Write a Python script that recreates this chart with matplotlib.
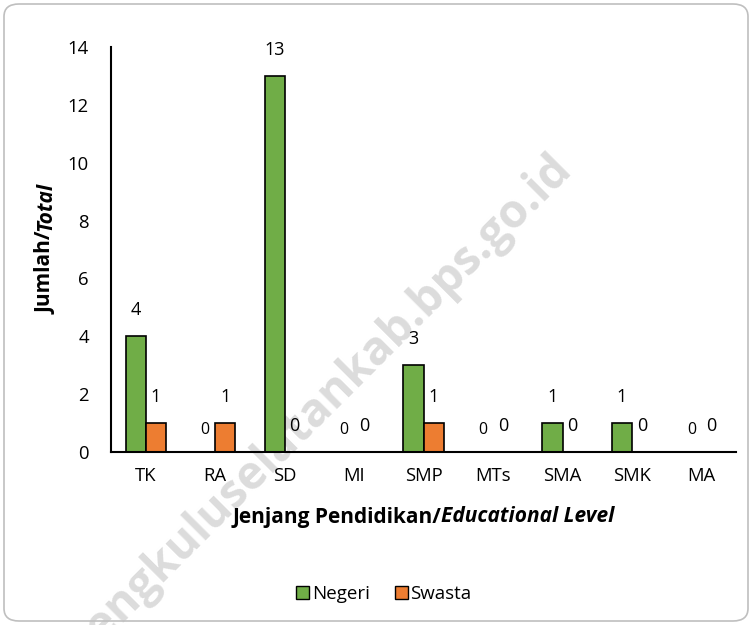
import numpy as np
import matplotlib.pyplot as plt
from matplotlib.patches import FancyBboxPatch, Patch

plt.rcParams['font.family'] = ['Open Sans', 'DejaVu Sans']

# data
levels = ['TK', 'RA', 'SD', 'MI', 'SMP', 'MTs', 'SMA', 'SMK', 'MA']
negeri = [4, 0, 13, 0, 3, 0, 1, 1, 0]
swasta = [1, 1, 0, 0, 1, 0, 0, 0, 0]

c_neg = '#70AD47'
c_swa = '#ED7D31'

fig = plt.figure(figsize=(7.52, 6.25), dpi=100)
ax = fig.add_axes([0.1476, 0.2768, 0.8314, 0.648])

x = np.arange(len(levels))
w = 0.29
ax.bar(x - w / 2, negeri, w, color=c_neg, edgecolor='black', linewidth=1.2, zorder=2)
ax.bar(x + w / 2, swasta, w, color=c_swa, edgecolor='black', linewidth=1.2, zorder=2)

# data labels (offset above bar top)
for i in range(len(levels)):
    fs_n = 13 if negeri[i] > 0 else 11.5
    dy_n = 26 if negeri[i] > 0 else 22
    ax.annotate(str(negeri[i]), (x[i] - w / 2, negeri[i]), xytext=(0, dy_n),
                textcoords='offset pixels', ha='center', va='center', fontsize=fs_n)
    ax.annotate(str(swasta[i]), (x[i] + w / 2, swasta[i]), xytext=(0, 26),
                textcoords='offset pixels', ha='center', va='center', fontsize=13)

ax.set_xlim(-0.5, len(levels) - 0.5)
ax.set_ylim(0, 14)
ax.set_yticks(range(0, 15, 2))
ax.set_xticks(x)
ax.set_xticklabels(levels)
ax.tick_params(length=0, labelsize=13.3, pad=11)
ax.tick_params(axis='y', pad=16)
for s in ['top', 'right']:
    ax.spines[s].set_visible(False)
ax.spines['left'].set_linewidth(1.5)
ax.spines['bottom'].set_linewidth(1.5)
ax.patch.set_alpha(0)

# axis titles with italic english part
fig.canvas.draw()
r = fig.canvas.get_renderer()
t1 = fig.text(0, 0, 'Jenjang Pendidikan/', fontsize=15, fontweight='bold', va='center')
t2 = fig.text(0, 0, 'Educational Level', fontsize=15, fontweight='bold', style='italic',
              va='center')
w1 = t1.get_window_extent(r).width
w2 = t2.get_window_extent(r).width
xc, yc = 423.5, 625 - 517
t1.set_position(((xc - (w1 + w2) / 2) / 752, yc / 625))
t2.set_position(((xc - (w1 + w2) / 2 + w1) / 752, yc / 625))

u1 = fig.text(0, 0, 'Jumlah/', fontsize=15, fontweight='bold', rotation=90,
              ha='center', va='bottom')
u2 = fig.text(0, 0, 'Total', fontsize=15, fontweight='bold', style='italic',
              rotation=90, ha='center', va='bottom')
h1 = u1.get_window_extent(r).height
h2 = u2.get_window_extent(r).height
yc2 = 625 - 248
u1.set_position((46 / 752, (yc2 - (h1 + h2) / 2) / 625))
u2.set_position((46 / 752, (yc2 - (h1 + h2) / 2 + h1) / 625))

# legend
handles = [Patch(facecolor=c_neg, edgecolor='black', label='Negeri'),
           Patch(facecolor=c_swa, edgecolor='black', label='Swasta')]
fig.legend(handles=handles, loc='center', bbox_to_anchor=(384 / 752, 1 - 594 / 625),
           ncol=2, frameon=False, fontsize=13.5, handlelength=0.7, handleheight=0.7,
           handletextpad=0.15, columnspacing=1.3)

# rounded border
border = FancyBboxPatch((4 / 752, 4 / 625), 744 / 752, 617 / 625,
                        boxstyle='round,pad=0,rounding_size=0.02',
                        transform=fig.transFigure, facecolor='none',
                        edgecolor='#bfbfbf', linewidth=1.2)
fig.patches.append(border)

# watermark, behind the bars
fig.text(318 / 752, 1 - 407 / 625, 'bengkuluselatankab.bps.go.id', fontsize=33.5,
         fontweight='bold', color='#dcdcdc', rotation=45,
         rotation_mode='anchor', ha='center', va='center', zorder=-1)

fig.savefig('out.png', dpi=100)
